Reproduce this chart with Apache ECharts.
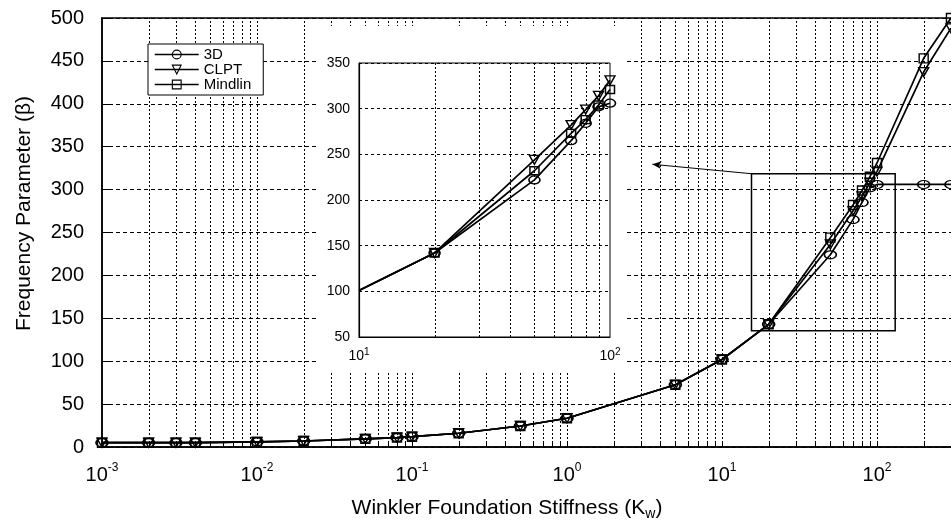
<!DOCTYPE html>
<html>
<head>
<meta charset="utf-8">
<script src="https://cdn.jsdelivr.net/npm/echarts/dist/echarts.min.js"></script>
<style>
  html, body { margin: 0; padding: 0; background: #fff; }
  #chart { width: 951px; height: 522px; }
</style>
</head>
<body>
<div id="chart"></div>
<script>
// Frequency parameter vs Winkler foundation stiffness (log K_w)
const stiffness   = [0.001, 0.002, 0.003, 0.004, 0.01, 0.02, 0.05, 0.08, 0.1, 0.2, 0.5, 1, 5, 10, 20, 50, 70, 80, 90, 100, 200, 300];
const beta3D      = [5, 5, 5, 5, 6, 7, 9.5, 11, 12, 16, 24.5, 33.5, 72.5, 102, 143, 224, 265, 285, 302, 306, 306, 306];
const betaCLPT    = [5, 5, 5, 5, 6, 7, 9.5, 11, 12, 16, 24.5, 33.5, 72.5, 102, 143, 236, 275, 292, 308, 321, 437, 488];
const betaMindlin = [5, 5, 5, 5, 6, 7, 9.5, 11, 12, 16, 24.5, 33.5, 72.5, 102, 143, 244, 282, 299, 315, 331, 453, 500];

// Enlarged view, 10 <= K_w <= 100
const insetStiffness = [10, 20, 50, 70, 80, 90, 100];
const inset3D        = [101, 142, 222, 265, 284, 302, 306];
const insetCLPT      = [101, 142, 244, 282, 299, 314, 331];
const insetMindlin   = [101, 142, 232, 273, 288, 304, 321];

// Zoom window outline and the arrow pointing to the enlarged view
const zoomWindowK    = [15.5, 131];
const zoomWindowBeta = [135.5, 318.5];
const arrowTip       = [3.55, 329.5];

// Log grid decades and sub-decade steps
const mainDecades  = [0.001, 0.01, 0.1, 1, 10, 100];
const minorSteps   = [1, 2, 3, 4, 5, 6, 7, 8, 9];
const insetMinor   = [20, 30, 40, 50, 60, 70, 80, 90];

const FONT = '"Liberation Sans", Arial, Helvetica, sans-serif';

const mainGridX = [];
mainDecades.forEach(d => minorSteps.forEach(m => {
  const v = +(d * m).toPrecision(3);
  if (v > 0.001) mainGridX.push([v, 0]);
}));

const ellipse = 'path://M0,4 A6,4 0 1,1 12,4 A6,4 0 1,1 0,4 Z';
const triDown = 'path://M0,0 L10,0 L5,9 Z';

function pairs(xs, ys) { return xs.map((x, i) => [x, ys[i]]); }
function insetPairs(xs, ys) {
  return xs.map((x, i) => i === 0 ? { value: [x, ys[i]], symbol: 'none' } : [x, ys[i]]);
}

function powLabel(v) {
  const e = Math.round(Math.log10(v));
  return '{b|10}{e|' + e + '}';
}

function vGrid(yMin, yMax, tickLen) {
  return function (params, api) {
    const x = api.value(0);
    const p0 = api.coord([x, yMin]);
    const p1 = api.coord([x, yMax]);
    const px = Math.round(p0[0]) + 0.5;
    const kids = [{
      type: 'line',
      shape: { x1: px, y1: p0[1], x2: px, y2: p1[1] },
      style: { stroke: '#000', lineWidth: 1, lineDash: [2, 2] }
    }];
    if (tickLen) {
      kids.push({
        type: 'line',
        shape: { x1: px, y1: p0[1], x2: px, y2: p0[1] - tickLen },
        style: { stroke: '#000', lineWidth: 1 }
      });
    }
    return { type: 'group', children: kids };
  };
}

// open (unfilled) markers, lines pass through them
const OPEN = 'rgba(255,255,255,0)';
const lineBase = {
  type: 'line',
  lineStyle: { color: '#000', width: 1.7 },
  itemStyle: { color: OPEN, borderColor: '#000', borderWidth: 1.4 },
  showSymbol: true,
  emphasis: { disabled: true },
  animation: false
};

const chart = echarts.init(document.getElementById('chart'), null, { renderer: 'canvas' });

chart.setOption({
  animation: false,
  backgroundColor: '#fff',
  textStyle: { fontFamily: FONT, color: '#000' },
  grid: [
    { left: 102, top: 18, right: -81, bottom: 75, show: true, borderColor: '#000', borderWidth: 1.5,
      outerBoundsMode: 'none', containLabel: false, z: 0 },
    { left: 359, top: 63, width: 251, height: 274, show: true, borderColor: '#000', borderWidth: 1,
      backgroundColor: '#fff', outerBoundsMode: 'none', containLabel: false, z: 4 }
  ],
  xAxis: [
    {
      type: 'log', logBase: 10, min: 0.001, max: 1000, gridIndex: 0,
      axisLine: { lineStyle: { color: '#000', width: 1.5 } },
      axisTick: { show: false },
      splitLine: { show: false },
      axisLabel: {
        margin: 15, color: '#000', formatter: powLabel,
        rich: {
          b: { fontSize: 20, lineHeight: 26, fontFamily: FONT, color: '#000' },
          e: { fontSize: 12, lineHeight: 16, verticalAlign: 'top', fontFamily: FONT, color: '#000' }
        }
      },
      name: 'Winkler Foundation Stiffness (K{s|w})',
      nameLocation: 'middle', nameGap: 48, nameMoveOverlap: false,
      nameTextStyle: {
        fontSize: 21, color: '#000', fontFamily: FONT, lineHeight: 26, padding: [0, 120, 0, 0],
        rich: { s: { fontSize: 14, lineHeight: 14, verticalAlign: 'bottom', fontFamily: FONT, color: '#000' } }
      }
    },
    {
      type: 'log', logBase: 10, min: 10, max: 100, gridIndex: 1, z: 4,
      axisLine: { lineStyle: { color: '#000', width: 1.2 } },
      axisTick: { show: false },
      splitLine: { show: false },
      axisLabel: {
        margin: 10, color: '#000', formatter: powLabel,
        rich: {
          b: { fontSize: 14, lineHeight: 18, fontFamily: FONT, color: '#000' },
          e: { fontSize: 10, lineHeight: 11, verticalAlign: 'top', fontFamily: FONT, color: '#000' }
        }
      }
    }
  ],
  yAxis: [
    {
      type: 'value', min: 0, max: 500, interval: 50, gridIndex: 0,
      axisLine: { show: true, lineStyle: { color: '#000', width: 1.5 } },
      axisTick: { show: true, inside: true, length: 7, lineStyle: { color: '#000' } },
      axisLabel: { margin: 18, fontSize: 20, color: '#000', fontFamily: FONT },
      splitLine: { show: true, lineStyle: { color: '#000', width: 1, type: [4, 3] } },
      name: 'Frequency Parameter (β)',
      nameLocation: 'middle', nameGap: 67, nameMoveOverlap: false,
      nameTextStyle: { fontSize: 21, color: '#000', fontFamily: FONT, padding: [0, 0, 0, 38] }
    },
    {
      type: 'value', min: 50, max: 350, interval: 50, gridIndex: 1, z: 4,
      axisLine: { show: true, lineStyle: { color: '#000', width: 1.2 } },
      axisTick: { show: false },
      axisLabel: { margin: 9, fontSize: 14, color: '#000', fontFamily: FONT },
      splitLine: { show: true, lineStyle: { color: '#000', width: 1, type: [3, 3] } }
    }
  ],
  legend: {
    orient: 'vertical', left: 148, top: 44, z: 6,
    itemWidth: 44, itemHeight: 11, itemGap: 0,
    padding: [3, 12, 3, 6],
    backgroundColor: '#fff', borderColor: '#000', borderWidth: 1, borderRadius: 0,
    itemStyle: { color: OPEN, borderColor: '#000', borderWidth: 1.1 },
    lineStyle: { color: '#000', width: 1.5 },
    textStyle: { fontSize: 15, lineHeight: 14, color: '#000', fontFamily: FONT },
    data: ['3D', 'CLPT', 'Mindlin']
  },
  graphic: [
    // paper-white panel behind the enlarged view
    { type: 'rect', silent: true, z: 3, shape: { x: 317, y: 26, width: 308, height: 347 }, style: { fill: '#fff' } }
  ],
  series: [
    {
      type: 'custom', name: 'grid-main', xAxisIndex: 0, yAxisIndex: 0, z: 1, silent: true,
      renderItem: vGrid(0, 500, 6), data: mainGridX, animation: false
    },
    Object.assign({}, lineBase, {
      name: '3D', xAxisIndex: 0, yAxisIndex: 0, z: 2,
      symbol: ellipse, symbolSize: [12, 8],
      data: pairs(stiffness, beta3D),
      markArea: {
        silent: true,
        itemStyle: { color: 'rgba(0,0,0,0)', borderColor: '#000', borderWidth: 1.5 },
        data: [[{ coord: [zoomWindowK[0], zoomWindowBeta[1]] }, { coord: [zoomWindowK[1], zoomWindowBeta[0]] }]]
      },
      markLine: {
        silent: true, symbol: ['none', 'arrow'], symbolSize: [6, 9],
        lineStyle: { color: '#000', width: 1, type: 'solid' },
        label: { show: false },
        data: [[{ coord: [zoomWindowK[0], zoomWindowBeta[1]] }, { coord: arrowTip }]]
      }
    }),
    Object.assign({}, lineBase, {
      name: 'CLPT', xAxisIndex: 0, yAxisIndex: 0, z: 2,
      symbol: triDown, symbolSize: [10, 9],
      data: pairs(stiffness, betaCLPT)
    }),
    Object.assign({}, lineBase, {
      name: 'Mindlin', xAxisIndex: 0, yAxisIndex: 0, z: 2,
      symbol: 'rect', symbolSize: [9, 9],
      data: pairs(stiffness, betaMindlin)
    }),
    {
      type: 'custom', name: 'grid-inset', xAxisIndex: 1, yAxisIndex: 1, z: 4, silent: true,
      renderItem: vGrid(50, 350, 0), data: insetMinor.map(v => [v, 50]), animation: false
    },
    Object.assign({}, lineBase, {
      name: '3D', xAxisIndex: 1, yAxisIndex: 1, z: 5,
      symbol: ellipse, symbolSize: [11, 8],
      data: insetPairs(insetStiffness, inset3D)
    }),
    Object.assign({}, lineBase, {
      name: 'CLPT', xAxisIndex: 1, yAxisIndex: 1, z: 5,
      symbol: triDown, symbolSize: [10, 9],
      data: insetPairs(insetStiffness, insetCLPT)
    }),
    Object.assign({}, lineBase, {
      name: 'Mindlin', xAxisIndex: 1, yAxisIndex: 1, z: 5,
      symbol: 'rect', symbolSize: [9, 8],
      data: insetPairs(insetStiffness, insetMindlin)
    })
  ]
});
</script>
</body>
</html>
